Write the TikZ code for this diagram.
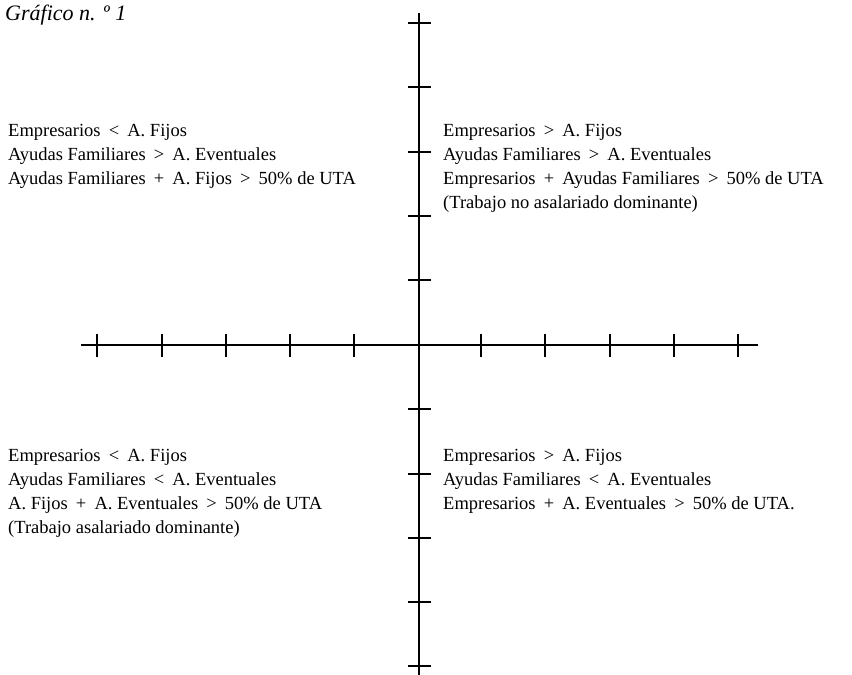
\documentclass[tikz,border=0pt]{standalone}
\usepackage{fontspec}
\setmainfont{Liberation Serif}
\newcommand{\opsym}[1]{\hspace{3.5pt}#1\hspace{3.5pt}}
\begin{document}
\begin{tikzpicture}[x=1pt,y=-1pt,
  axisline/.style={line width=2.6pt},
  tickline/.style={line width=1.6pt},
  block/.style={anchor=north west,inner sep=0pt,align=left,font=\fontsize{18.5}{24}\selectfont},
  titletext/.style={anchor=base west,inner sep=0pt,font=\fontsize{22}{26}\selectfont\itshape}]
\useasboundingbox[fill=white] (0,0) rectangle (852,675);
% axes
\coordinate (xl) at (81,345);
\coordinate (xr) at (758,345);
\coordinate (yt) at (419,13);
\coordinate (yb) at (419,675);
\draw[axisline] (xl) -- (xr);
\draw[axisline] (yt) -- (yb);
% ticks
\foreach \x in {97,162,226,290,354,481,545,610,674,738}
  \draw[tickline] (\x,334) -- (\x,357);
\foreach \y in {23,87,152,216,280,409,474,538,602,666}
  \draw[tickline] (408,\y) -- (431,\y);
% title
\node[titletext] (title) at (5,20) {Gráfico n. º 1};
% blocks
\node[block] (tl) at (8,124) {Empresarios \opsym{<} A. Fijos\\
Ayudas Familiares \opsym{>} A. Eventuales\\
Ayudas Familiares \opsym{+} A. Fijos \opsym{>} 50\% de UTA};
\node[block] (tr) at (443,124) {Empresarios \opsym{>} A. Fijos\\
Ayudas Familiares \opsym{>} A. Eventuales\\
Empresarios \opsym{+} Ayudas Familiares \opsym{>} 50\% de UTA\\
(Trabajo no asalariado dominante)};
\node[block] (bl) at (8,449) {Empresarios \opsym{<} A. Fijos\\
Ayudas Familiares \opsym{<} A. Eventuales\\
A. Fijos \opsym{+} A. Eventuales \opsym{>} 50\% de UTA\\
(Trabajo asalariado dominante)};
\node[block] (br) at (443,449) {Empresarios \opsym{>} A. Fijos\\
Ayudas Familiares \opsym{<} A. Eventuales\\
Empresarios \opsym{+} A. Eventuales \opsym{>} 50\% de UTA.};
\end{tikzpicture}
\end{document}
